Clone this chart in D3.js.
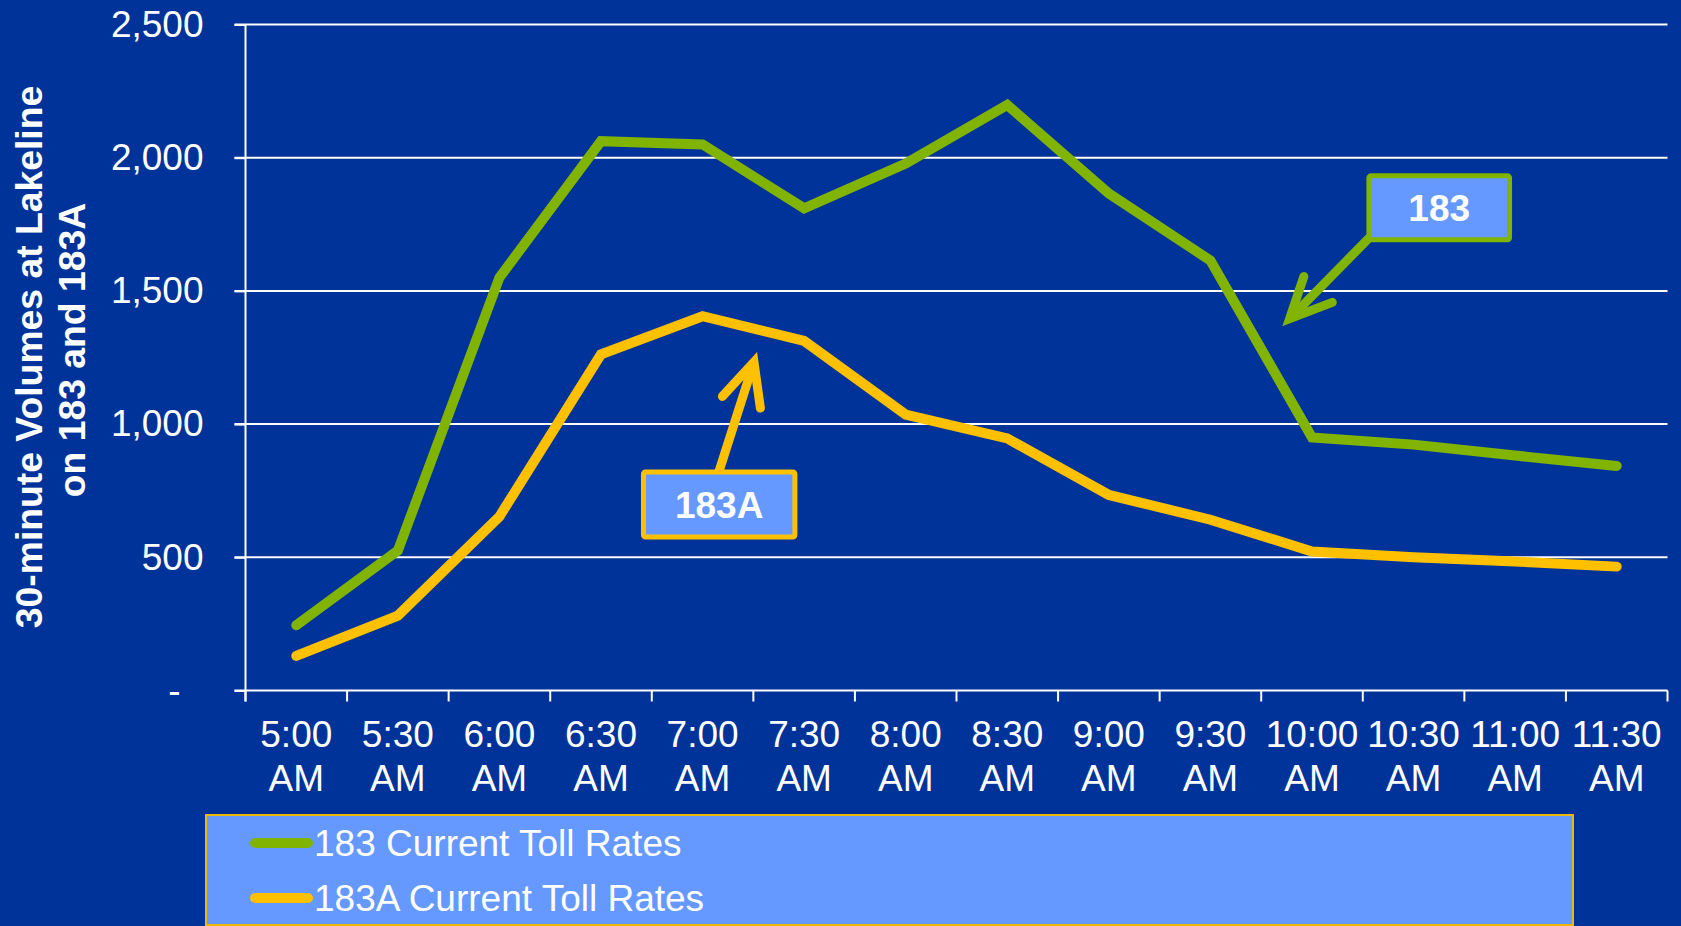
<!DOCTYPE html>
<html>
<head>
<meta charset="utf-8">
<script src="https://cdn.jsdelivr.net/npm/d3@7"></script>
<style>
  html, body { margin: 0; padding: 0; background: #003399; }
  svg { display: block; font-family: "Liberation Sans", Arial, sans-serif; }
</style>
</head>
<body>
<svg id="chart" width="1681" height="926"></svg>
<script>
// Half-hour periods on the x axis
const times = ["5:00", "5:30", "6:00", "6:30", "7:00", "7:30", "8:00",
               "8:30", "9:00", "9:30", "10:00", "10:30", "11:00", "11:30"];
const periodSuffix = "AM";

// 30-minute volumes at Lakeline
const vol183  = [245, 525, 1550, 2062, 2050, 1810, 1978, 2198, 1866, 1614, 950, 923, 882, 843];
const vol183A = [130, 281, 653, 1262, 1405, 1312, 1036, 946, 734, 641, 522, 500, 484, 465];

const yTicks = [0, 500, 1000, 1500, 2000, 2500];

const seriesNames = ["183 Current Toll Rates", "183A Current Toll Rates"];
const calloutLabels = ["183", "183A"];
const titleLines = ["30-minute Volumes at Lakeline", "on 183 and 183A"];

const COLORS = { bg: "#003399", green: "#80B400", yellow: "#FFC000", panel: "#6699FF", gold: "#EDB800" };
const W = 1681, H = 926;
const plot = { left: 245.5, right: 1667.5, top: 24.5, bottom: 690.5 };

const svg = d3.select("#chart");
svg.append("rect").attr("width", W).attr("height", H).attr("fill", COLORS.bg);

const x = d3.scaleBand().domain(times).range([plot.left, plot.right]).padding(0);
const y = d3.scaleLinear().domain([0, 2500]).range([plot.bottom, plot.top]);

// fractional category position (0 = centre of first period)
const xf = i => plot.left + x.step() * (i + 0.5);

// horizontal gridlines
svg.append("g").selectAll("line")
  .data(yTicks.filter(d => d > 0))
  .join("line")
  .attr("x1", plot.left - 11).attr("x2", plot.right)
  .attr("y1", d => y(d)).attr("y2", d => y(d))
  .attr("stroke", "#fff").attr("stroke-width", 2);

// y axis
const yAxis = svg.append("g")
  .attr("transform", `translate(${plot.left},0)`)
  .call(d3.axisLeft(y).tickValues(yTicks).tickSize(11).tickPadding(31)
        .tickFormat(d => d === 0 ? "-" : d3.format(",")(d)));
yAxis.select(".domain").remove();
yAxis.selectAll(".tick line").attr("stroke", "#fff").attr("stroke-width", 2);
yAxis.selectAll(".tick text")
  .attr("fill", "#fff").attr("font-size", 37)
  .attr("font-family", "'Liberation Sans', Arial, sans-serif")
  .attr("dx", d => d === 0 ? -23 : 0);
yAxis.append("line")
  .attr("x1", 0).attr("x2", 0).attr("y1", plot.top).attr("y2", plot.bottom + 11)
  .attr("stroke", "#fff").attr("stroke-width", 2);

// x axis: baseline, boundary ticks and two-line labels
const xAxis = svg.append("g")
  .attr("transform", `translate(0,${plot.bottom})`)
  .call(d3.axisBottom(x).tickSize(0).tickPadding(0));
xAxis.select(".domain").remove();
xAxis.append("line")
  .attr("x1", plot.left - 11).attr("x2", plot.right).attr("y1", 0).attr("y2", 0)
  .attr("stroke", "#fff").attr("stroke-width", 2);
xAxis.selectAll(".boundary")
  .data(d3.range(times.length + 1))
  .join("line")
  .attr("class", "boundary")
  .attr("x1", i => plot.left + i * x.step()).attr("x2", i => plot.left + i * x.step())
  .attr("y1", 0).attr("y2", 11)
  .attr("stroke", "#fff").attr("stroke-width", 2);
xAxis.selectAll(".tick text").each(function(d) {
  const t = d3.select(this).text(null)
    .attr("fill", "#fff").attr("font-size", 37)
    .attr("font-family", "'Liberation Sans', Arial, sans-serif")
    .attr("text-anchor", "middle").attr("y", 0).attr("dy", null);
  t.append("tspan").attr("x", 0).attr("y", 56).text(d);
  t.append("tspan").attr("x", 0).attr("y", 100).text(periodSuffix);
});

// y axis title (two rotated lines)
const yTitle = svg.append("g").attr("fill", "#fff")
  .attr("font-size", 37.3).attr("font-weight", "bold").attr("text-anchor", "middle");
yTitle.append("text")
  .attr("transform", "translate(42,357) rotate(-90)")
  .text(titleLines[0]);
yTitle.append("text")
  .attr("transform", "translate(85,350) rotate(-90)")
  .text(titleLines[1]);

// data lines
const line = d3.line().x((d, i) => x(times[i]) + x.bandwidth() / 2).y(d => y(d));
const series = [
  { name: seriesNames[0], values: vol183, color: COLORS.green },
  { name: seriesNames[1], values: vol183A, color: COLORS.yellow }
];
svg.append("g").selectAll("path")
  .data(series.slice().reverse())
  .join("path")
  .attr("d", d => line(d.values))
  .attr("fill", "none")
  .attr("stroke", d => d.color)
  .attr("stroke-width", 10)
  .attr("stroke-linecap", "round")
  .attr("stroke-linejoin", "miter");

// callouts: box, label and open-headed arrow, placed in data space
const callouts = [
  { label: calloutLabels[0], color: COLORS.green,
    box: [10.56, 11.945, 1692, 1932],
    start: [10.56, 1698], tip: [9.78, 1396], arms: [[9.92, 1554], [10.2, 1457]] },
  { label: calloutLabels[1], color: COLORS.yellow,
    box: [3.418, 4.909, 576, 820],
    start: [4.161, 822], tip: [4.506, 1233], arms: [[4.195, 1104], [4.569, 1060]] }
];
const cg = svg.append("g");
callouts.forEach(c => {
  const [i0, i1, v0, v1] = c.box;
  const bx = xf(i0), bw = xf(i1) - xf(i0), by = y(v1), bh = y(v0) - y(v1);
  // shaft stops a little short of the tip so the head stays sharp
  const tx = xf(c.tip[0]), ty = y(c.tip[1]);
  const sx = xf(c.start[0]), sy = y(c.start[1]);
  const len = Math.hypot(tx - sx, ty - sy);
  const ex = tx + (sx - tx) / len * 12, ey = ty + (sy - ty) / len * 12;
  cg.append("line")
    .attr("x1", sx).attr("y1", sy).attr("x2", ex).attr("y2", ey)
    .attr("stroke", c.color).attr("stroke-width", 9).attr("stroke-linecap", "round");
  cg.append("path")
    .attr("d", `M${xf(c.arms[0][0])},${y(c.arms[0][1])}L${tx},${ty}L${xf(c.arms[1][0])},${y(c.arms[1][1])}`)
    .attr("fill", "none").attr("stroke", c.color).attr("stroke-width", 9)
    .attr("stroke-linecap", "round").attr("stroke-linejoin", "miter").attr("stroke-miterlimit", 10);
  cg.append("rect")
    .attr("x", bx).attr("y", by).attr("width", bw).attr("height", bh)
    .attr("rx", 2).attr("fill", COLORS.panel)
    .attr("stroke", c.color).attr("stroke-width", 5);
  cg.append("text")
    .attr("x", bx + bw / 2).attr("y", by + bh / 2 + 13.3)
    .attr("text-anchor", "middle").attr("fill", "#fff")
    .attr("font-size", 37).attr("font-weight", "bold")
    .text(c.label);
});

// legend panel
const legend = svg.append("g");
legend.append("rect")
  .attr("x", 206).attr("y", 815).attr("width", 1367).attr("height", 110)
  .attr("fill", COLORS.panel).attr("stroke", COLORS.gold).attr("stroke-width", 2);
series.forEach((s, k) => {
  const cy = 843 + k * 55;
  legend.append("line")
    .attr("x1", 255).attr("x2", 308).attr("y1", cy).attr("y2", cy)
    .attr("stroke", s.color).attr("stroke-width", 10).attr("stroke-linecap", "round");
  legend.append("text")
    .attr("x", 314).attr("y", cy + 12.5)
    .attr("fill", "#fff").attr("font-size", 37)
    .text(s.name);
});
</script>
</body>
</html>
